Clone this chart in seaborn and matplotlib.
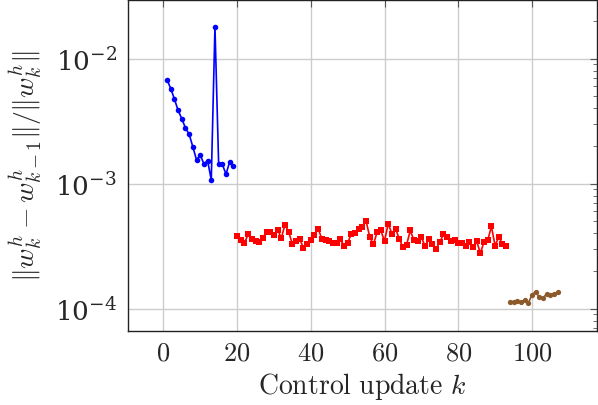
import numpy as np
import pandas as pd
import matplotlib
matplotlib.use("Agg")
import matplotlib.pyplot as plt
import seaborn as sns
from matplotlib.ticker import LogLocator, FormatStrFormatter, NullFormatter

# phase 1: k = 1..19
blue_k = list(range(1, 20))
blue_vals = [6.8e-3, 5.77e-3, 4.76e-3, 3.86e-3, 3.31e-3, 2.79e-3, 2.49e-3, 1.97e-3,
             1.55e-3, 1.70e-3, 1.44e-3, 1.53e-3, 1.07e-3, 1.81e-2, 1.43e-3, 1.43e-3,
             1.19e-3, 1.50e-3, 1.39e-3]

# phase 2: k = 20..93
red_k = list(range(20, 94))
red_vals = [3.81e-4, 3.51e-4, 3.35e-4, 3.93e-4, 3.62e-4, 3.47e-4, 3.41e-4, 3.69e-4,
            4.10e-4, 4.10e-4, 3.86e-4, 4.28e-4, 3.67e-4, 4.70e-4, 4.10e-4, 3.30e-4,
            3.45e-4, 3.62e-4, 3.05e-4, 3.30e-4, 3.51e-4, 3.91e-4, 4.36e-4, 3.62e-4,
            3.51e-4, 3.45e-4, 3.37e-4, 3.35e-4, 3.58e-4, 3.20e-4, 3.35e-4, 3.98e-4,
            4.05e-4, 4.30e-4, 4.50e-4, 5.04e-4, 3.74e-4, 3.27e-4, 4.10e-4, 4.22e-4,
            3.47e-4, 4.79e-4, 3.98e-4, 4.36e-4, 3.62e-4, 3.10e-4, 3.25e-4, 4.22e-4,
            3.51e-4, 3.45e-4, 3.74e-4, 3.16e-4, 3.58e-4, 3.30e-4, 3.01e-4, 3.41e-4,
            3.93e-4, 3.74e-4, 3.47e-4, 3.51e-4, 3.37e-4, 3.37e-4, 3.20e-4, 3.41e-4,
            3.10e-4, 3.47e-4, 2.78e-4, 3.41e-4, 3.51e-4, 4.55e-4, 3.20e-4, 3.74e-4,
            3.30e-4, 3.20e-4]

# phase 3: k = 94..107
brown_k = list(range(94, 108))
brown_vals = [1.12e-4, 1.14e-4, 1.16e-4, 1.12e-4, 1.17e-4, 1.10e-4, 1.29e-4, 1.37e-4,
              1.23e-4, 1.21e-4, 1.32e-4, 1.29e-4, 1.31e-4, 1.35e-4]

x_ticks = [0, 20, 40, 60, 80, 100]

df = pd.concat([
    pd.DataFrame({"k": blue_k, "val": blue_vals, "phase": "a"}),
    pd.DataFrame({"k": red_k, "val": red_vals, "phase": "b"}),
    pd.DataFrame({"k": brown_k, "val": brown_vals, "phase": "c"}),
])

sns.set_style("white")
plt.rcParams["mathtext.fontset"] = "cm"
plt.rcParams["font.family"] = ["DejaVu Serif"]

fig = plt.figure(figsize=(5.98, 4.06), dpi=100)
ax = fig.add_axes([0.214, 0.182, 0.784, 0.8155])

styles = {"a": ("#0000ff", "o", 4.0), "b": ("#ff0000", "s", 3.8), "c": ("#8c5a2a", "o", 3.8)}
for phase, (color, marker, ms) in styles.items():
    sub = df[df["phase"] == phase]
    sns.lineplot(data=sub, x="k", y="val", ax=ax, color=color, marker=marker,
                 markersize=ms, markeredgewidth=0, linewidth=1.2, legend=False)

ax.set_yscale("log")
ax.set_xlim(-9.6, 117.6)
ax.set_ylim(10 ** -4.18, 10 ** -1.53)
ax.set_xticks(x_ticks)
ax.xaxis.set_major_formatter(FormatStrFormatter(r"$%d$"))
ax.yaxis.set_major_locator(LogLocator(base=10, numticks=10))
ax.yaxis.set_minor_locator(LogLocator(base=10, subs=np.arange(2, 10), numticks=10))
ax.yaxis.set_minor_formatter(NullFormatter())

ax.grid(True, which="major", color="#cccccc", linewidth=1.0)
ax.tick_params(which="both", direction="in", top=True, right=True, labelsize=19,
               color="#555555")
ax.tick_params(which="major", length=5)
ax.tick_params(axis="x", which="major", pad=6)
ax.tick_params(axis="y", which="major", pad=8)
ax.tick_params(which="minor", length=3)
for s in ax.spines.values():
    s.set_color("#222222")
    s.set_linewidth(1.0)

ax.set_xlabel(r"$\mathrm{Control\ update}\ k$", fontsize=20, labelpad=4)
ax.set_ylabel(r"$\|w_k^h - w_{k-1}^h\|/\|w_k^h\|$", fontsize=20, labelpad=8)

fig.savefig("out.png", dpi=100)
